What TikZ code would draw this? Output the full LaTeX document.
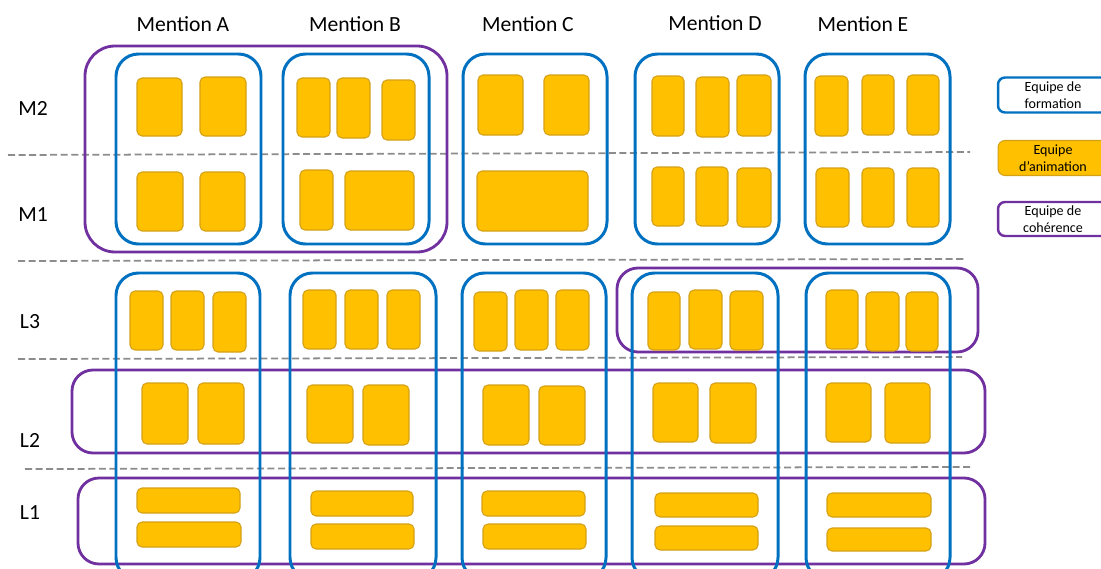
\documentclass[tikz,border=0pt]{standalone}
\usepackage{fontspec}
\setmainfont{Carlito}
\definecolor{fblue}{HTML}{0070C0}
\definecolor{cpurple}{HTML}{7030A0}
\definecolor{aorange}{HTML}{FFC000}
\definecolor{aedge}{HTML}{D4A017}
\definecolor{dgray}{HTML}{8C8C8C}
\newcommand{\bx}[6]{\node[#1, minimum width={(#5-#3)*0.02cm}, minimum height={(#6-#4)*0.02cm}] (#2) at ({(#3+#5)/2},{(#4+#6)/2}) {};}
\tikzset{
  anim/.style={draw=aedge, fill=aorange, line width=0.6pt, rounded corners=0.1cm, inner sep=0pt},
  form/.style={draw=fblue, line width=1.7pt, rounded corners=0.45cm, inner sep=0pt},
  coh/.style={draw=cpurple, line width=1.6pt, rounded corners=0.42cm, inner sep=0pt},
  cohbig/.style={coh, rounded corners=0.6cm},
  sep/.style={draw=dgray, line width=1pt, dash pattern=on 4pt off 2pt},
  head/.style={font=\fontsize{12.3}{14}\selectfont, inner sep=0pt},
  legtext/.style={font=\fontsize{8}{9.4}\selectfont, align=center, inner sep=0pt},
}
\begin{document}
\begin{tikzpicture}[x=0.02cm, y=-0.02cm]
\useasboundingbox (0,0) rectangle (1101,568);
\clip (0,0) rectangle (1101,568);
% headers
\node[head] (hA) at (183,24) {Mention A};
\node[head] (hB) at (355,24) {Mention B};
\node[head] (hC) at (528,24) {Mention C};
\node[head] (hD) at (715,23) {Mention D};
\node[head] (hE) at (863,24) {Mention E};
% row labels
\node[head] (rM2) at (33,108) {M2};
\node[head] (rM1) at (33,215) {M1};
\node[head] (rL3) at (30,322) {L3};
\node[head] (rL2) at (30,440) {L2};
\node[head] (rL1) at (30,513) {L1};
% separators
\coordinate (s1a) at (8,155); \coordinate (s1b) at (970,152);
\coordinate (s2a) at (18,261); \coordinate (s2b) at (965,259);
\coordinate (s3a) at (18,359); \coordinate (s3b) at (962,357);
\coordinate (s4a) at (25,469); \coordinate (s4b) at (970,467);
\draw[sep] (s1a) -- (s1b);
\draw[sep] (s2a) -- (s2b);
\draw[sep] (s3a) -- (s3b);
\draw[sep] (s4a) -- (s4b);
% coherence boxes
\bx{cohbig}{cM}{85}{46}{447}{252}
\bx{coh}{cL3}{617}{268}{978}{352}
\bx{coh}{cL2}{72}{370}{985}{453}
\bx{coh}{cL1}{78}{478}{985}{564}
% formation boxes (master)
\bx{form}{fMA}{116}{54}{261}{244}
\bx{form}{fMB}{283}{54}{429}{244}
\bx{form}{fMC}{463}{54}{607}{244}
\bx{form}{fMD}{635}{54}{779}{244}
\bx{form}{fME}{805}{54}{950}{244}
% formation boxes (licence)
\bx{form}{fLA}{116}{273}{260}{580}
\bx{form}{fLB}{290}{273}{436}{580}
\bx{form}{fLC}{462}{273}{606}{580}
\bx{form}{fLD}{632}{273}{778}{580}
\bx{form}{fLE}{806}{273}{950}{580}
% M2
\bx{anim}{m2a1}{137}{78}{182}{136}
\bx{anim}{m2a2}{200}{77}{246}{136}
\bx{anim}{m2b1}{297}{78}{330}{137}
\bx{anim}{m2b2}{337}{78}{370}{138}
\bx{anim}{m2b3}{382}{80}{415}{140}
\bx{anim}{m2c1}{478}{75}{523}{135}
\bx{anim}{m2c2}{544}{75}{589}{135}
\bx{anim}{m2d1}{652}{76}{684}{136}
\bx{anim}{m2d2}{696}{77}{729}{137}
\bx{anim}{m2d3}{737}{75}{771}{136}
\bx{anim}{m2e1}{815}{76}{848}{136}
\bx{anim}{m2e2}{862}{75}{894}{135}
\bx{anim}{m2e3}{907}{75}{939}{135}
% M1
\bx{anim}{m1a1}{137}{172}{183}{231}
\bx{anim}{m1a2}{200}{172}{245}{231}
\bx{anim}{m1b1}{300}{170}{333}{230}
\bx{anim}{m1b2}{345}{171}{414}{230}
\bx{anim}{m1c1}{477}{171}{588}{231}
\bx{anim}{m1d1}{652}{167}{684}{226}
\bx{anim}{m1d2}{696}{167}{728}{226}
\bx{anim}{m1d3}{737}{168}{771}{227}
\bx{anim}{m1e1}{816}{168}{849}{227}
\bx{anim}{m1e2}{862}{168}{894}{227}
\bx{anim}{m1e3}{907}{168}{939}{227}
% L3
\bx{anim}{l3a1}{130}{291}{163}{350}
\bx{anim}{l3a2}{171}{291}{204}{350}
\bx{anim}{l3a3}{213}{292}{246}{352}
\bx{anim}{l3b1}{303}{290}{336}{349}
\bx{anim}{l3b2}{345}{290}{378}{349}
\bx{anim}{l3b3}{387}{290}{420}{349}
\bx{anim}{l3c1}{474}{292}{507}{351}
\bx{anim}{l3c2}{515}{290}{548}{350}
\bx{anim}{l3c3}{556}{290}{589}{350}
\bx{anim}{l3d1}{648}{292}{680}{350}
\bx{anim}{l3d2}{689}{290}{722}{349}
\bx{anim}{l3d3}{730}{291}{763}{350}
\bx{anim}{l3e1}{826}{290}{858}{349}
\bx{anim}{l3e2}{866}{292}{899}{351}
\bx{anim}{l3e3}{906}{292}{938}{351}
% L2
\bx{anim}{l2a1}{142}{383}{188}{444}
\bx{anim}{l2a2}{198}{383}{244}{444}
\bx{anim}{l2b1}{307}{385}{353}{443}
\bx{anim}{l2b2}{363}{385}{409}{445}
\bx{anim}{l2c1}{483}{385}{529}{445}
\bx{anim}{l2c2}{539}{386}{585}{445}
\bx{anim}{l2d1}{653}{383}{698}{442}
\bx{anim}{l2d2}{710}{383}{756}{443}
\bx{anim}{l2e1}{826}{383}{871}{442}
\bx{anim}{l2e2}{885}{383}{930}{443}
% L1
\bx{anim}{l1a1}{137}{488}{240}{513}
\bx{anim}{l1a2}{137}{522}{241}{547}
\bx{anim}{l1b1}{311}{491}{413}{516}
\bx{anim}{l1b2}{311}{524}{414}{549}
\bx{anim}{l1c1}{482}{491}{585}{516}
\bx{anim}{l1c2}{483}{524}{586}{549}
\bx{anim}{l1d1}{655}{493}{758}{517}
\bx{anim}{l1d2}{655}{526}{758}{550}
\bx{anim}{l1e1}{827}{493}{931}{517}
\bx{anim}{l1e2}{827}{528}{931}{551}
% legend
\node[form, rounded corners=0.14cm, line width=1.4pt, minimum width=2.2cm, minimum height=0.7cm] (legF) at (1053,95) {};
\node[legtext] (legFt) at (1053,95) {Equipe de\\formation};
\node[anim, rounded corners=0.14cm, minimum width=2.2cm, minimum height=0.7cm] (legA) at (1053,158) {};
\node[legtext] (legAt) at (1053,158) {Equipe\\d’animation};
\node[coh, rounded corners=0.14cm, line width=1.4pt, minimum width=2.2cm, minimum height=0.68cm] (legC) at (1053,219) {};
\node[legtext] (legCt) at (1053,219) {Equipe de\\cohérence};
\end{tikzpicture}
\end{document}
